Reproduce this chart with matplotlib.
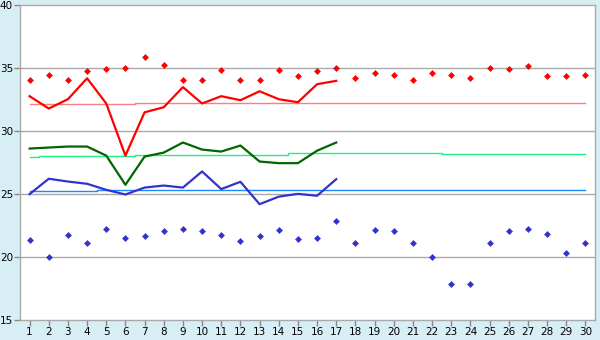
import matplotlib
matplotlib.use('Agg')
import matplotlib.pyplot as plt
import numpy as np

days = list(range(1, 31))

red_dots = [34.05, 34.5, 34.1, 34.76, 34.9, 35.0, 35.87, 35.24, 34.05, 34.1,
            34.84, 34.05, 34.05, 34.84, 34.37, 34.76, 35.0, 34.2, 34.6, 34.5,
            34.05, 34.6, 34.5, 34.2, 35.0, 34.9, 35.16, 34.37, 34.37, 34.44]
red_line = [32.78, 31.8, 32.54, 34.2, 32.2, 28.06, 31.5, 31.9, 33.5, 32.2,
            32.78, 32.46, 33.17, 32.54, 32.3, 33.73, 34.0]

green_line = [28.62, 28.70, 28.78, 28.78, 28.06, 25.74, 27.98, 28.3, 29.1, 28.54,
              28.38, 28.86, 27.59, 27.46, 27.46, 28.45, 29.1]

blue_line = [25.0, 26.22, 26.0, 25.82, 25.34, 24.97, 25.52, 25.68, 25.52, 26.8,
             25.4, 25.98, 24.2, 24.8, 25.02, 24.87, 26.19]
blue_dots = [21.35, 20.0, 21.75, 21.11, 22.22, 21.51, 21.67, 22.06, 22.22, 22.06,
             21.75, 21.27, 21.67, 22.14, 21.43, 21.51, 22.86, 21.11, 22.14, 22.06,
             21.11, 20.0, 17.86, 17.86, 21.11, 22.06, 22.22, 21.83, 20.32, 21.11]

# running averages, drawn as steps between the days
red_avg = [32.14, 32.14, 32.14, 32.14, 32.14, 32.14, 32.22, 32.22, 32.22, 32.22,
           32.22, 32.22, 32.22, 32.22, 32.22, 32.22, 32.22, 32.22, 32.22, 32.22,
           32.22, 32.22, 32.22, 32.22, 32.22, 32.22, 32.22, 32.22, 32.22, 32.22]
green_avg = [27.94, 28.02, 28.02, 28.02, 28.02, 28.02, 28.1, 28.1, 28.1, 28.1,
             28.1, 28.1, 28.1, 28.1, 28.25, 28.25, 28.25, 28.25, 28.25, 28.25,
             28.25, 28.25, 28.17, 28.17, 28.17, 28.17, 28.17, 28.17, 28.17, 28.17]
blue_avg = [25.21, 25.21, 25.21, 25.21, 25.29, 25.29, 25.29, 25.29, 25.29, 25.29,
            25.29, 25.29, 25.29, 25.29, 25.3, 25.3, 25.3, 25.3, 25.3, 25.3,
            25.3, 25.3, 25.3, 25.3, 25.3, 25.3, 25.3, 25.3, 25.3, 25.3]

fig = plt.figure(figsize=(6, 3.4), dpi=100)
fig.patch.set_facecolor('#D8EEF5')
ax = fig.add_axes([20 / 600, 20 / 340, 575 / 600, 314.7 / 340])
ax.set_facecolor('white')

for y in [20, 25, 30, 35]:
    ax.axhline(y, color='#AAAAAA', lw=1, zorder=1)

n = len(red_line)
ax.step(days, red_avg, where='mid', color='#FF7F7F', lw=1, zorder=2)
ax.step(days, green_avg, where='mid', color='#22EE88', lw=1, zorder=2)
ax.step(days, blue_avg, where='mid', color='#1E88FF', lw=1, zorder=2)

ax.plot(days[:n], red_line, color='#FF0000', lw=1.6, zorder=3)
ax.plot(days[:n], green_line, color='#006600', lw=1.6, zorder=3)
ax.plot(days[:n], blue_line, color='#3333CC', lw=1.6, zorder=3)

ax.plot(days, red_dots, 'D', color='#FF0000', ms=3.5, mew=0, ls='none', zorder=4)
ax.plot(days, blue_dots, 'D', color='#3333CC', ms=3.5, mew=0, ls='none', zorder=4)

ax.set_xlim(0.5, 30.5)
ax.set_ylim(15, 40)
ax.set_xticks(days)
ax.set_yticks([15, 20, 25, 30, 35, 40])
ax.tick_params(axis='both', colors='#888888', labelcolor='black', labelsize=7.5,
               length=4, width=1, pad=1)
for s in ax.spines.values():
    s.set_color('#AAAAAA')
    s.set_linewidth(1)

fig.savefig('out.png', dpi=100, facecolor=fig.get_facecolor())
